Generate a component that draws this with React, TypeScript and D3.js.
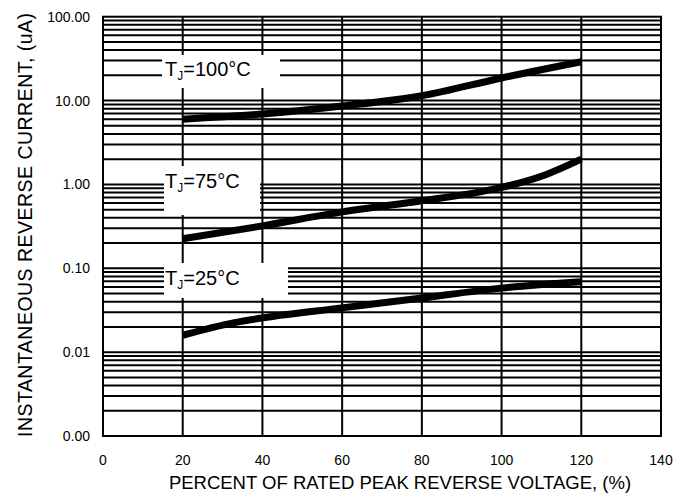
import React from "react";
import * as d3 from "d3";

// percent of rated peak reverse voltage
const x100 = [20, 40, 60, 80, 100, 120];
const i100 = [6.0, 6.9, 8.6, 11.4, 18.6, 29];
const x75 = [20, 40, 60, 80, 95, 100, 110, 120];
const i75 = [0.225, 0.32, 0.47, 0.64, 0.82, 0.92, 1.25, 2.0];
const x25 = [20, 33, 40, 60, 80, 100, 120];
const i25 = [0.0159, 0.0225, 0.0256, 0.0337, 0.0443, 0.058, 0.069];

const xTicks = [0, 20, 40, 60, 80, 100, 120, 140];
const yTicks = [100, 10, 1, 0.1, 0.01, 0.001];
const yTickLabels = ["100.00", "10.00", "1.00", "0.10", "0.01", "0.00"];
const temps = ["100", "75", "25"];

const W = 673;
const H = 504;
const L = 103, R = 661, T = 16.7, B = 436;

export default function App() {
  const x = d3.scaleLinear().domain([0, 140]).range([L, R]);
  const y = d3.scaleLog().domain([0.001, 100]).range([B, T]);

  // minor grid: 1..9 times each decade
  const gridY: number[] = [];
  for (let e = -3; e < 2; e++) {
    for (let m = 1; m < 10; m++) gridY.push(m * Math.pow(10, e));
  }

  const line = d3
    .line<[number, number]>()
    .x((d) => x(d[0]))
    .y((d) => y(d[1]))
    .curve(d3.curveMonotoneX);

  const series = [
    x100.map((v, i) => [v, i100[i]] as [number, number]),
    x75.map((v, i) => [v, i75[i]] as [number, number]),
    x25.map((v, i) => [v, i25[i]] as [number, number]),
  ];

  // white label boxes (pixel layout)
  const boxes = [
    { x0: 162, x1: 280, y0: 55, y1: 88, base: 76 },
    { x0: 164, x1: 260, y0: 166, y1: 215, base: 188 },
    { x0: 164, x1: 288, y0: 263, y1: 298, base: 285 },
  ];

  const font = "'Liberation Sans', Arial, sans-serif";

  return (
    <svg width={W} height={H} style={{ position: "absolute", left: 0, top: 0 }} fontFamily={font}>
      <rect width={W} height={H} fill="#fff" />
      <g stroke="#000" strokeWidth={2}>
        {gridY.map((v, i) => (
          <line key={"h" + i} x1={L} x2={R} y1={y(v)} y2={y(v)} />
        ))}
        {xTicks.slice(1, -1).map((v) => (
          <line key={"v" + v} x1={x(v)} x2={x(v)} y1={T} y2={B} />
        ))}
      </g>
      {boxes.map((b, i) => (
        <rect key={"b" + i} x={b.x0} y={b.y0} width={b.x1 - b.x0} height={b.y1 - b.y0} fill="#fff" />
      ))}
      <rect x={L} y={T} width={R - L} height={B - T} fill="none" stroke="#000" strokeWidth={2} />
      {series.map((s, i) => (
        <path key={"s" + i} d={line(s) || ""} fill="none" stroke="#000" strokeWidth={7} />
      ))}
      {boxes.map((b, i) => (
        <text key={"t" + i} x={165} y={b.base} fontSize={20} fill="#000">
          T<tspan fontSize={12} dy={4}>J</tspan>
          <tspan dy={-4}>={temps[i]}°C</tspan>
        </text>
      ))}
      {yTicks.map((v, i) => (
        <text key={"yl" + i} x={90} y={y(v)} dy="0.36em" textAnchor="end" fontSize={14}>
          {yTickLabels[i]}
        </text>
      ))}
      {xTicks.map((v) => (
        <text key={"xl" + v} x={x(v)} y={465} textAnchor="middle" fontSize={14}>
          {v}
        </text>
      ))}
      <text x={(L + R) / 2 + 18} y={489} textAnchor="middle" fontSize={18.5}>
        PERCENT OF RATED PEAK REVERSE VOLTAGE, (%)
      </text>
      <text
        transform="translate(32,225) rotate(-90)"
        textAnchor="middle"
        fontSize={19.5}
        textLength={424}
        lengthAdjust="spacing"
      >
        INSTANTANEOUS REVERSE CURRENT, (uA)
      </text>
    </svg>
  );
}
